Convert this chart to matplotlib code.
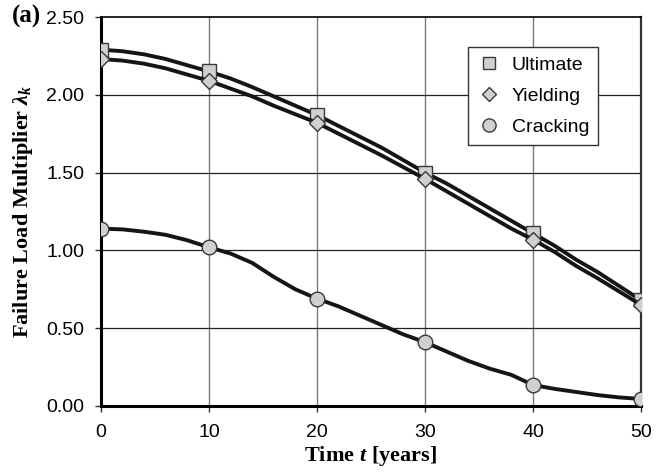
import matplotlib
matplotlib.use("Agg")
import matplotlib.pyplot as plt
from matplotlib.lines import Line2D

plt.rcParams['font.family'] = 'Liberation Sans'
plt.rcParams['mathtext.fontset'] = 'custom'
plt.rcParams['mathtext.rm'] = 'Liberation Serif:bold'
plt.rcParams['mathtext.it'] = 'Liberation Serif:bold:italic'

# time axis (years), curves sampled every 2 years
years = list(range(0, 52, 2))
ultimate = [2.29, 2.28, 2.26, 2.23, 2.19, 2.15, 2.105, 2.05, 1.99, 1.93, 1.87,
            1.80, 1.73, 1.66, 1.58, 1.50, 1.43, 1.35, 1.27, 1.19, 1.11,
            1.03, 0.94, 0.86, 0.77, 0.68]
yielding = [2.23, 2.22, 2.20, 2.17, 2.13, 2.09, 2.04, 1.99, 1.93, 1.875, 1.82,
            1.75, 1.68, 1.61, 1.535, 1.46, 1.38, 1.30, 1.22, 1.14, 1.07,
            0.99, 0.90, 0.82, 0.735, 0.65]
cracking = [1.14, 1.135, 1.12, 1.10, 1.065, 1.02, 0.98, 0.92, 0.83, 0.75, 0.69,
            0.64, 0.58, 0.52, 0.46, 0.41, 0.35, 0.29, 0.24, 0.20, 0.135,
            0.11, 0.09, 0.07, 0.055, 0.045]
marker_every = 5  # markers every 10 years

x_ticks = [0, 10, 20, 30, 40, 50]
y_ticks = [0.0, 0.5, 1.0, 1.5, 2.0, 2.5]

fig = plt.figure(figsize=(6.68, 4.75), dpi=100)
ax = fig.add_axes([0.151, 0.1453, 0.8086, 0.8189])

for xv in x_ticks[1:-1]:
    ax.axvline(xv, color='#7a7a7a', lw=1.0, zorder=1)
for yv in y_ticks[1:-1]:
    ax.axhline(yv, color='#202020', lw=0.9, zorder=1)

face = '#d0d0d0'
edge = '#3a3a3a'
ax.plot(years, ultimate, color='#151515', lw=2.8, marker='s', ms=9.5,
        mfc=face, mec=edge, mew=1.0, markevery=marker_every, zorder=3)
ax.plot(years, yielding, color='#151515', lw=2.8, marker='D', ms=8,
        mfc=face, mec=edge, mew=1.0, markevery=marker_every, zorder=4)
ax.plot(years, cracking, color='#151515', lw=2.8, marker='o', ms=10.5,
        mfc=face, mec=edge, mew=1.0, markevery=marker_every, zorder=3)

ax.set_xlim(0, 50)
ax.set_ylim(0, 2.5)
ax.set_xticks(x_ticks)
ax.set_yticks(y_ticks)
ax.set_yticklabels(['%.2f' % v for v in y_ticks])
ax.tick_params(direction='out', length=4, width=1, labelsize=14,
               color='#333333')
ax.tick_params(axis='x', pad=9)
ax.tick_params(axis='y', pad=8)

ax.spines['left'].set_linewidth(2.2)
ax.spines['bottom'].set_linewidth(2.2)
ax.spines['top'].set_linewidth(1.2)
ax.spines['right'].set_linewidth(1.6)
ax.spines['right'].set_color('#333333')

ax.set_xlabel(r'$\mathrm{Time}\ t\ \mathrm{[years]}$', fontsize=16, labelpad=2)
ax.set_ylabel(r'$\mathrm{Failure\ Load\ Multiplier}\ \lambda_k$', fontsize=16,
              labelpad=8)

handles = [
    Line2D([], [], ls='none', marker='s', ms=8.5, mfc=face, mec=edge, mew=1.0),
    Line2D([], [], ls='none', marker='D', ms=7, mfc=face, mec=edge, mew=1.0),
    Line2D([], [], ls='none', marker='o', ms=9.5, mfc=face, mec=edge, mew=1.0),
]
leg = ax.legend(handles, ['Ultimate', 'Yielding', 'Cracking'],
                loc='upper left', bbox_to_anchor=(0.680, 0.922), fontsize=14,
                frameon=True, fancybox=False, framealpha=1, edgecolor='#333333',
                handletextpad=0.6, borderpad=0.45, labelspacing=0.7,
                handlelength=1.2, borderaxespad=0)
leg.get_frame().set_linewidth(1.0)
leg.set_zorder(6)

fig.text(0.018, 0.966, '(a)', family='Liberation Serif', weight='bold',
         fontsize=18, va='center', ha='left')

fig.savefig('out.png', dpi=100)
